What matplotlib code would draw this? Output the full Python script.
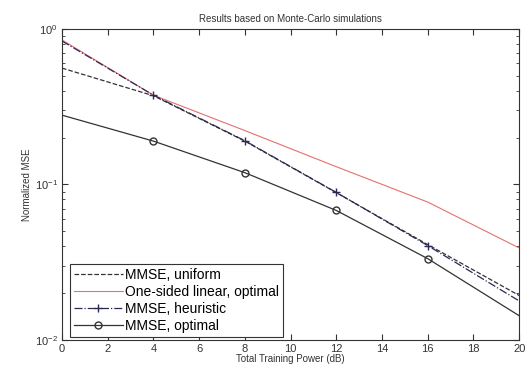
import matplotlib
matplotlib.use("Agg")
import matplotlib.pyplot as plt
from matplotlib.ticker import LogLocator, NullFormatter, FixedLocator

power_db = [0, 4, 8, 12, 16, 20]
mmse_uniform = [0.56, 0.372, 0.190, 0.0885, 0.0410, 0.0193]
onesided_linear = [0.85, 0.375, 0.222, 0.130, 0.0770, 0.0390]
mmse_heuristic = [0.837, 0.375, 0.191, 0.0888, 0.0404, 0.0178]
mmse_optimal = [0.279, 0.190, 0.119, 0.068, 0.0333, 0.0143]

x_ticks = [0, 2, 4, 6, 8, 10, 12, 14, 16, 18, 20]

plt.rcParams['font.family'] = ['Liberation Sans', 'DejaVu Sans']
fig = plt.figure(figsize=(5.25, 3.76), dpi=100)
ax = fig.add_axes([0.118, 0.096, 0.871, 0.827])

ax.plot(power_db, mmse_uniform, color='#333333', ls='--', lw=0.9, label='MMSE, uniform')
ax.plot(power_db, onesided_linear, color='#e57070', ls='-', lw=0.8, label='One-sided linear, optimal')
ax.plot(power_db, mmse_heuristic, color='#2a2a55', ls='-.', lw=0.9, marker='+', ms=6,
        markevery=[1, 2, 3, 4], label='MMSE, heuristic')
ax.plot(power_db, mmse_optimal, color='#333333', ls='-', lw=0.9, marker='o', ms=5,
        mfc='none', markevery=[1, 2, 3, 4], label='MMSE, optimal')

ax.set_yscale('log')
ax.set_xlim(0, 20)
ax.set_ylim(0.01, 1)
ax.xaxis.set_major_locator(FixedLocator(x_ticks))
ax.yaxis.set_major_locator(LogLocator(base=10, numticks=5))
ax.yaxis.set_minor_locator(LogLocator(base=10, subs=range(2, 10), numticks=20))
ax.yaxis.set_minor_formatter(NullFormatter())
ax.tick_params(which='both', direction='in', top=True, right=True, labelsize=8, colors='#333333')
ax.tick_params(which='major', length=4, pad=3)
ax.tick_params(which='minor', length=2)
for s in ax.spines.values():
    s.set_color('#333333')
    s.set_linewidth(0.8)

ax.set_title('Results based on Monte-Carlo simulations', fontsize=7, color='#333333', pad=5)
ax.set_xlabel('Total Training Power (dB)', fontsize=7, color='#333333', labelpad=0)
ax.set_ylabel('Normalized MSE', fontsize=7, color='#333333', labelpad=2)

leg = ax.legend(loc='lower left', bbox_to_anchor=(0.017, 0.008), fontsize=10, frameon=True,
                fancybox=False, edgecolor='#333333', framealpha=1, handlelength=3.5,
                handletextpad=0.15, borderpad=0.3, labelspacing=0.22, borderaxespad=0.0)
leg.get_frame().set_linewidth(0.8)

fig.savefig('out.png', dpi=100)
